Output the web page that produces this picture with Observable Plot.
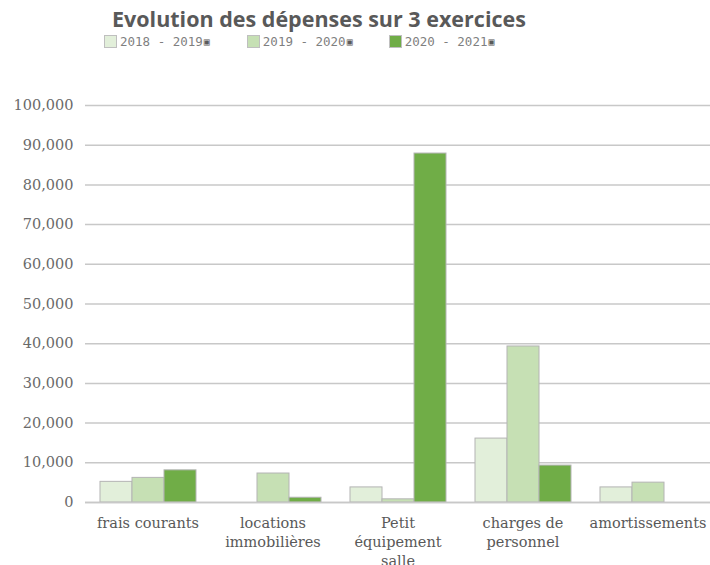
<!DOCTYPE html>
<html>
<head>
<meta charset="utf-8">
<script src="https://cdn.jsdelivr.net/npm/d3@7"></script>
<script src="https://cdn.jsdelivr.net/npm/@observablehq/plot@0.6"></script>
<style>
  body { margin: 0; background: #fff; }
  #wrap { width: 710px; }
  #title { height: 30px; box-sizing: border-box; padding-left: 112px; padding-top: 7px;
    font: bold 21.5px "Open Sans", sans-serif; color: #595959; line-height: 24px; white-space: nowrap; }
  #legend { height: 22px; display: flex; align-items: center; padding-left: 104px; box-sizing: border-box;
    font: 12.5px "DejaVu Sans Mono", monospace; color: #7f7f7f; }
  .item { display: flex; align-items: center; }
  .sw { width: 13px; height: 13px; box-sizing: border-box; border: 1px solid #bfbfbf; margin-right: 3px; }
  .mk { font-size: 10px; color: #595959; margin-left: 1px; }
</style>
</head>
<body>
<div id="wrap">
  <div id="title">Evolution des dépenses sur 3 exercices</div>
  <div id="legend"></div>
  <div id="chart"></div>
</div>
<script>
const categories = ["frais courants", "locations immobilières", "Petit équipement salle", "charges de personnel", "amortissements"];
const categoryLabels = ["frais courants", "locations\nimmobilières", "Petit\néquipement\nsalle", "charges de\npersonnel", "amortissements"];
const series = ["2018 - 2019", "2019 - 2020", "2020 - 2021"];
const colors = ["#e2efda", "#c6e0b4", "#70ad47"];
const values2018 = [5200, 0, 3800, 16100, 3800];
const values2019 = [6200, 7300, 800, 39300, 5000];
const values2020 = [8100, 1200, 87900, 9300, 0];
const yTicks = [0, 10000, 20000, 30000, 40000, 50000, 60000, 70000, 80000, 90000, 100000];

const allValues = [values2018, values2019, values2020];
const data = [];
series.forEach((s, i) => categories.forEach((c, j) => data.push({category: c, series: s, value: allValues[i][j]})));

// legend
const legend = document.getElementById("legend");
const legendGaps = [0, 37, 36];
series.forEach((s, i) => {
  const it = document.createElement("div");
  it.className = "item";
  it.style.marginLeft = legendGaps[i] + "px";
  it.innerHTML = `<div class="sw" style="background:${colors[i]}"></div><span>${s}</span><span class="mk">▣</span>`;
  legend.appendChild(it);
});

const labelMap = new Map(categories.map((c, i) => [c, categoryLabels[i]]));

const chart = Plot.plot({
  width: 710,
  height: 513,
  marginTop: 53,
  marginBottom: 63,
  marginLeft: 85,
  marginRight: 0,
  style: {fontFamily: "DejaVu Serif", color: "#595959", background: "#fff"},
  fx: {domain: categories, padding: 0, label: null},
  x: {domain: series, paddingInner: 0, paddingOuter: 0.45, axis: null},
  y: {domain: [0, 100000], label: null},
  color: {domain: series, range: colors},
  marks: [
    Plot.gridY(yTicks, {stroke: "#c8c8c8", strokeOpacity: 1, strokeWidth: 1.5}),
    Plot.axisY(yTicks, {tickSize: 0, tickPadding: 12, tickFormat: d3.format(","), fontSize: 14.5, fill: "#6a6a6a", label: null}),
    Plot.axisFx({anchor: "bottom", tickSize: 0, tickPadding: 12, fontSize: 14.5, fill: "#595959", lineHeight: 1.3, tickFormat: d => labelMap.get(d), label: null}),
    Plot.barY(data, {fx: "category", x: "series", y: "value", fill: "series", stroke: "#b4b4b4", strokeWidth: 1, insetLeft: 0, insetRight: 0}),
    Plot.ruleY([0], {stroke: "#c8c8c8", strokeWidth: 1.5})
  ]
});
document.getElementById("chart").appendChild(chart);
</script>
</body>
</html>
